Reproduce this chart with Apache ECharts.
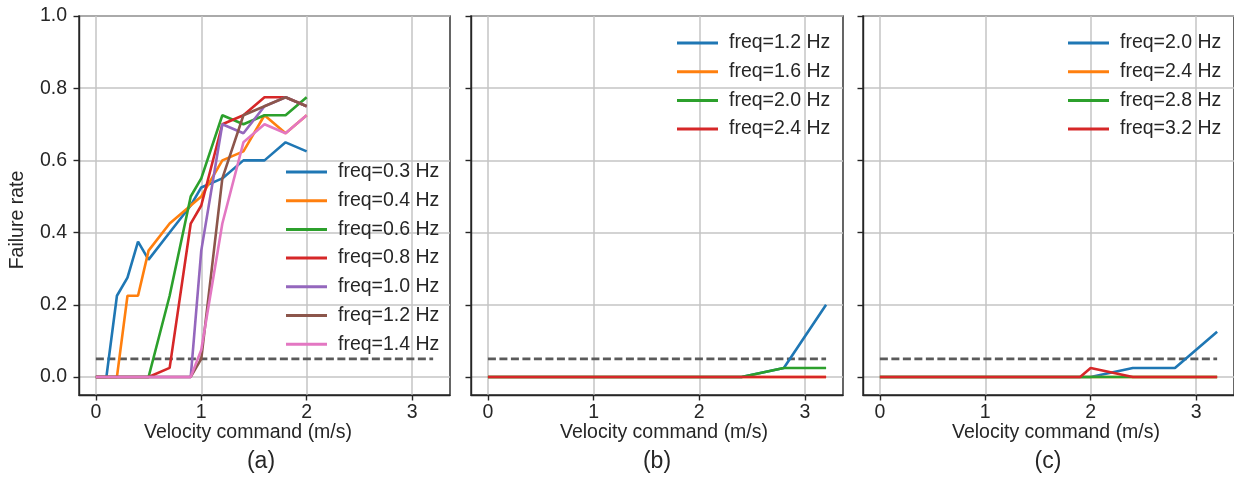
<!DOCTYPE html>
<html>
<head>
<meta charset="utf-8">
<script src="https://cdn.jsdelivr.net/npm/echarts@6/dist/echarts.min.js"></script>
<style>
  html, body { margin: 0; padding: 0; background: #fff; }
  #chart { width: 1234px; height: 480px; }
</style>
</head>
<body>
<div id="chart"></div>
<script>
(function() {
  // --- data ---
  var xTicks = [0, 1, 2, 3];
  var yTicks = [0, 0.2, 0.4, 0.6, 0.8, 1.0];
  var threshold = 0.05;
  var thresholdX = [0, 3.2];

  // panel (a)
  var xA = [0, 0.1, 0.2, 0.3, 0.4, 0.5, 0.7, 0.9, 1.0, 1.2, 1.4, 1.6, 1.8, 2.0];
  var freqA = ['freq=0.3 Hz', 'freq=0.4 Hz', 'freq=0.6 Hz', 'freq=0.8 Hz', 'freq=1.0 Hz', 'freq=1.2 Hz', 'freq=1.4 Hz'];
  var rateA03 = [0, 0, 0.225, 0.275, 0.375, 0.325, 0.4, 0.475, 0.525, 0.55, 0.6, 0.6, 0.65, 0.625];
  var rateA04 = [0, 0, 0, 0.225, 0.225, 0.35, 0.425, 0.475, 0.5, 0.6, 0.625, 0.725, 0.675, 0.725];
  var rateA06 = [0, 0, 0, 0, 0, 0, 0.225, 0.5, 0.55, 0.725, 0.7, 0.725, 0.725, 0.775];
  var rateA08 = [0, 0, 0, 0, 0, 0, 0.025, 0.425, 0.475, 0.7, 0.725, 0.775, 0.775, 0.75];
  var rateA10 = [0, 0, 0, 0, 0, 0, 0, 0, 0.35, 0.7, 0.675, 0.75, 0.775, 0.75];
  var rateA12 = [0, 0, 0, 0, 0, 0, 0, 0, 0.05, 0.55, 0.725, 0.75, 0.775, 0.75];
  var rateA14 = [0, 0, 0, 0, 0, 0, 0, 0, 0.075, 0.425, 0.65, 0.7, 0.675, 0.725];

  // panel (b)
  var xB = [0, 0.4, 0.8, 1.2, 1.6, 2.0, 2.4, 2.8, 3.2];
  var freqB = ['freq=1.2 Hz', 'freq=1.6 Hz', 'freq=2.0 Hz', 'freq=2.4 Hz'];
  var rateB12 = [0, 0, 0, 0, 0, 0, 0, 0.025, 0.2];
  var rateB16 = [0, 0, 0, 0, 0, 0, 0, 0, 0];
  var rateB20 = [0, 0, 0, 0, 0, 0, 0, 0.025, 0.025];
  var rateB24 = [0, 0, 0, 0, 0, 0, 0, 0, 0];

  // panel (c)
  var xC = [0, 0.4, 0.8, 1.2, 1.6, 1.9, 2.0, 2.4, 2.8, 3.2];
  var freqC = ['freq=2.0 Hz', 'freq=2.4 Hz', 'freq=2.8 Hz', 'freq=3.2 Hz'];
  var rateC20 = [0, 0, 0, 0, 0, 0, 0, 0.025, 0.025, 0.125];
  var rateC24 = [0, 0, 0, 0, 0, 0, 0, 0, 0, 0];
  var rateC28 = [0, 0, 0, 0, 0, 0, 0, 0, 0, 0];
  var rateC32 = [0, 0, 0, 0, 0, 0, 0.025, 0, 0, 0];

  var palette = ['#1f77b4', '#ff7f0e', '#2ca02c', '#d62728', '#9467bd', '#8c564b', '#e377c2'];
  var ink = '#262626';
  var gridColor = '#c4c4c4';
  var font = "'Liberation Sans', Arial, sans-serif";
  var fs = 19.5;

  var panels = [
    { key: 'a', x: xA, names: freqA, ys: [rateA03, rateA04, rateA06, rateA08, rateA10, rateA12, rateA14],
      grid: { left: 79, top: 16, width: 371, height: 379 }, legend: { left: 281, top: 157 },
      xlabel: 248, tag: 261 },
    { key: 'b', x: xB, names: freqB, ys: [rateB12, rateB16, rateB20, rateB24],
      grid: { left: 471, top: 16, width: 372, height: 379 }, legend: { left: 672, top: 28 },
      xlabel: 664, tag: 657 },
    { key: 'c', x: xC, names: freqC, ys: [rateC20, rateC24, rateC28, rateC32],
      grid: { left: 863, top: 16, width: 371, height: 379 }, legend: { left: 1063, top: 28 },
      xlabel: 1056, tag: 1048 }
  ];

  function zip(xs, ys) {
    return xs.map(function(x, i) { return [x, ys[i]]; });
  }

  var grids = [], xAxes = [], yAxes = [], series = [], legends = [], graphics = [];

  panels.forEach(function(p, pi) {
    grids.push(Object.assign({ show: true, borderColor: ink, borderWidth: 1.4, backgroundColor: 'transparent' }, p.grid));

    xAxes.push({
      type: 'value', gridIndex: pi, min: -0.16, max: 3.36,
      axisLine: { show: true, onZero: false, lineStyle: { color: ink, width: 1.4 } },
      axisTick: { show: true, length: 5.5, customValues: xTicks, lineStyle: { color: ink, width: 1.4 } },
      axisLabel: { customValues: xTicks, color: ink, fontSize: fs, fontFamily: font, margin: 8,
        formatter: function(v) { return String(v); } },
      splitLine: { show: true, lineStyle: { color: gridColor, width: 1.5 } }
    });

    yAxes.push({
      type: 'value', gridIndex: pi, min: -0.05, max: 1.0,
      axisLine: { show: true, onZero: false, lineStyle: { color: ink, width: 1.4 } },
      axisTick: { show: true, length: 5.5, customValues: yTicks, lineStyle: { color: ink, width: 1.4 } },
      axisLabel: { show: pi === 0, customValues: yTicks, color: ink, fontSize: fs, fontFamily: font, margin: 12,
        formatter: function(v) { return v.toFixed(1); } },
      splitLine: { show: true, lineStyle: { color: gridColor, width: 1.5 } }
    });

    var legendNames = [];
    p.names.forEach(function(name, si) {
      var id = p.key + ':' + name;
      legendNames.push(id);
      series.push({
        name: id, type: 'line', xAxisIndex: pi, yAxisIndex: pi,
        data: zip(p.x, p.ys[si]),
        symbol: 'none', silent: true,
        color: palette[si],
        lineStyle: { color: palette[si], width: 2.6 },
        z: 3
      });
    });

    series.push({
      type: 'line', xAxisIndex: pi, yAxisIndex: pi,
      data: zip(thresholdX, [threshold, threshold]),
      symbol: 'none', silent: true,
      lineStyle: { color: '#5a5a5a', width: 2.6, type: [8, 3.5] },
      z: 2
    });

    legends.push({
      orient: 'vertical', left: p.legend.left, top: p.legend.top,
      data: legendNames, icon: 'rect', itemWidth: 41, itemHeight: 3, itemGap: 8.7,
      selectedMode: false,
      formatter: function(n) { return n.split(':')[1]; },
      textStyle: { color: ink, fontSize: fs, fontFamily: font, lineHeight: 20, padding: [0, 0, 0, 6] }
    });

    graphics.push({
      type: 'text', x: p.xlabel, y: 433,
      style: { text: 'Velocity command (m/s)', fill: ink, font: fs + 'px ' + font, textAlign: 'center', textVerticalAlign: 'middle' }
    });
    graphics.push({
      type: 'text', x: p.tag, y: 462,
      style: { text: '(' + p.key + ')', fill: ink, font: '23px ' + font, textAlign: 'center', textVerticalAlign: 'middle' }
    });
  });

  graphics.push({
    type: 'text', x: 18, y: 220, rotation: Math.PI / 2,
    style: { text: 'Failure rate', fill: ink, font: fs + 'px ' + font, textAlign: 'center', textVerticalAlign: 'middle' }
  });

  var chart = echarts.init(document.getElementById('chart'), null, { renderer: 'canvas' });
  chart.setOption({
    animation: false,
    backgroundColor: '#ffffff',
    grid: grids,
    xAxis: xAxes,
    yAxis: yAxes,
    legend: legends,
    series: series,
    graphic: graphics
  });
  window.addEventListener('resize', function() { chart.resize(); });
})();
</script>
</body>
</html>
